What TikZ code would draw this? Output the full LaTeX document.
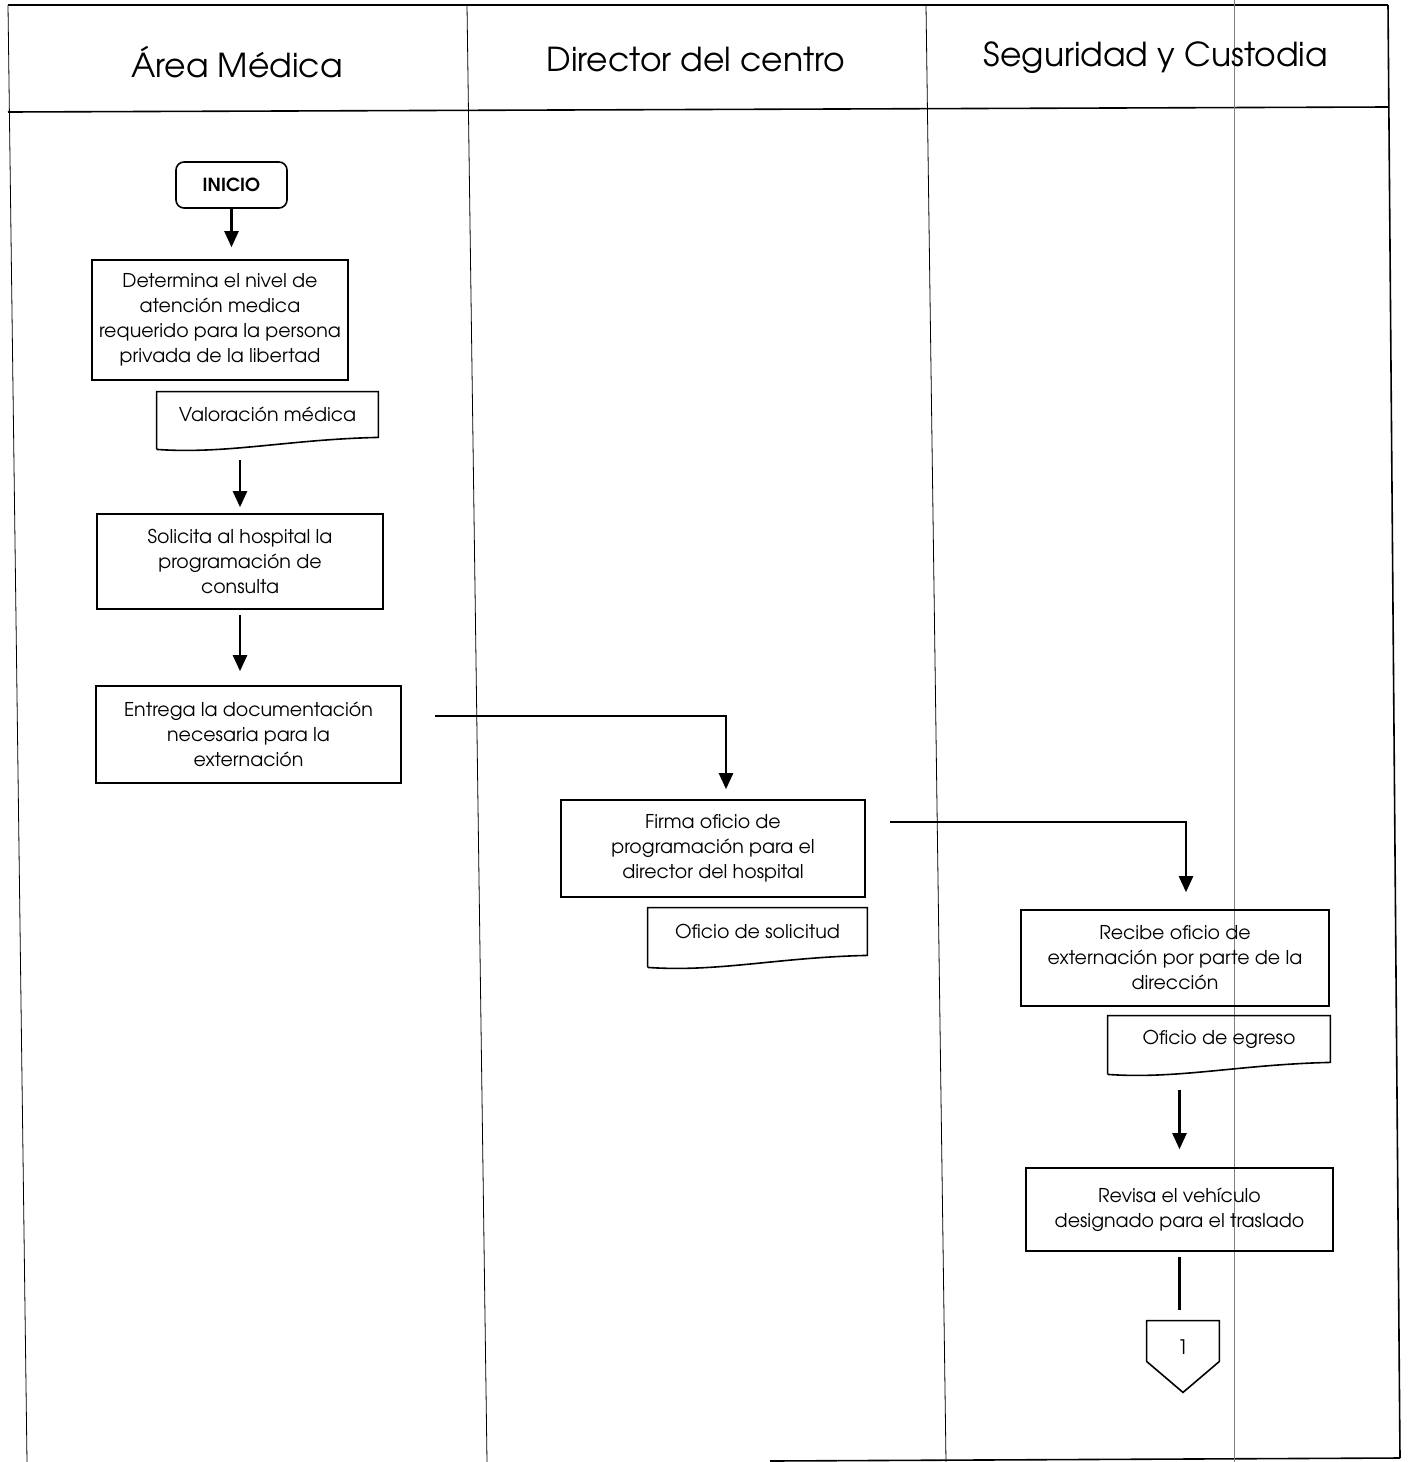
\documentclass[tikz,border=0pt]{standalone}
\usepackage{fontspec}
\setmainfont{TeX Gyre Adventor}
\usepackage{tikz}
\usetikzlibrary{arrows.meta, calc}

\begin{document}
\begin{tikzpicture}[x=0.5pt, y=-0.5pt,
    box/.style={draw, thick, align=center, inner sep=2pt, font=\fontsize{9.5}{12.5}\selectfont},
    doc/.style={align=center, inner sep=2pt, font=\fontsize{9.5}{12.5}\selectfont},
    flow/.style={very thick, -{Triangle[length=8pt, width=7pt]}},
    lane/.style={font=\fontsize{16.5}{18}\selectfont}]
    \useasboundingbox (0,0) rectangle (1409,1462);

    % swimlane frame
    \draw[thick] (8,5) -- (1388,5);
    \draw[thick] (8,112) -- (1388,107);
    \draw (8,5) -- (27,1462);
    \draw (467,5) -- (487,1462);
    \draw (926,5) -- (946,1462);
    \draw[thick] (1388,5) -- (1400,1458);
    \draw[thick] (770,1461) -- (1400,1458);
    \draw[very thin, gray] (1234,0) -- (1234,1462);

    \node[lane] at (237,62) (medica) {Área Médica};
    \node[lane] at (696,60) (director) {Director del centro};
    \node[lane] at (1156,58) (custodia) {Seguridad y Custodia};

    % area medica
    \node[box, rounded corners=4pt, font=\fontsize{9}{12}\selectfont\bfseries, minimum width=55.5pt, minimum height=23pt] at (231.5,185) (inicio) {INICIO};
    \node[box, minimum width=128pt, minimum height=60pt] at (220,320) (determina) {Determina el nivel de\\atención medica\\requerido para la persona\\privada de la libertad};
    \node[doc, minimum width=110.5pt, minimum height=22.5pt] at (267.5,414.5) (valoracion) {Valoración médica};
    \node[box, minimum width=143pt, minimum height=47.5pt] at (240,561.5) (solicita) {Solicita al hospital la\\programación de\\consulta};
    \node[box, minimum width=152.5pt, minimum height=48.5pt] at (248.5,734.5) (entrega) {Entrega la documentación\\necesaria para la\\externación};

    % director
    \node[box, minimum width=152pt, minimum height=48.5pt] at (713,848.5) (firma) {Firma oficio de\\programación para el\\director del hospital};
    \node[doc, minimum width=109.5pt, minimum height=23.5pt] at (757.5,931.5) (solicitud) {Oficio de solicitud};

    % seguridad
    \node[box, minimum width=154pt, minimum height=48pt] at (1175,958) (recibe) {Recibe oficio de\\externación por parte de la\\dirección};
    \node[doc, minimum width=111pt, minimum height=23pt] at (1219,1039) (egreso) {Oficio de egreso};
    \node[box, minimum width=153.5pt, minimum height=41.5pt] at (1179.5,1209.5) (revisa) {Revisa el vehículo\\designado para el traslado};
    \node[doc, minimum width=36pt, minimum height=20pt, text height=13pt, text depth=0pt, font=\fontsize{10}{12}\selectfont] at (1183,1341) (uno) {1};

    % documents
    \foreach \d in {valoracion, solicitud, egreso}
        \draw[thick] ($(\d.south west)+(0,12)$) -- (\d.north west) -- (\d.north east) -- (\d.south east)
            .. controls ($(\d.south east)+(-90,2)$) and ($(\d.south west)+(70,17)$) .. ($(\d.south west)+(0,12)$);
    \draw[thick] (uno.south west) -- (uno.north west) -- (uno.north east) -- (uno.south east) -- ($(uno.south)+(0,31)$) -- cycle;

    \coordinate (out1) at (435,716);
    \coordinate (out2) at (890,822);

    \draw[flow, shorten >=6pt] (inicio.south) -- (inicio.south |- determina.north);
    \draw[flow, shorten <=11.5pt, shorten >=3pt] (solicita.north |- valoracion.south) -- (solicita.north);
    \draw[flow, shorten <=2.5pt, shorten >=7pt] (solicita.south) -- (solicita.south |- entrega.north);
    \draw[flow, shorten >=5pt] (out1) -| ([xshift=6.5pt]firma.north);
    \draw[flow, shorten >=8.5pt] (out2) -| ([xshift=5.5pt]recibe.north);
    \draw[flow, shorten <=14pt, shorten >=9pt] (revisa.north |- egreso.south) -- (revisa.north);
    \draw[very thick, shorten <=2.5pt, shorten >=5.5pt] (revisa.south) -- (revisa.south |- uno.north);
\end{tikzpicture}
\end{document}
